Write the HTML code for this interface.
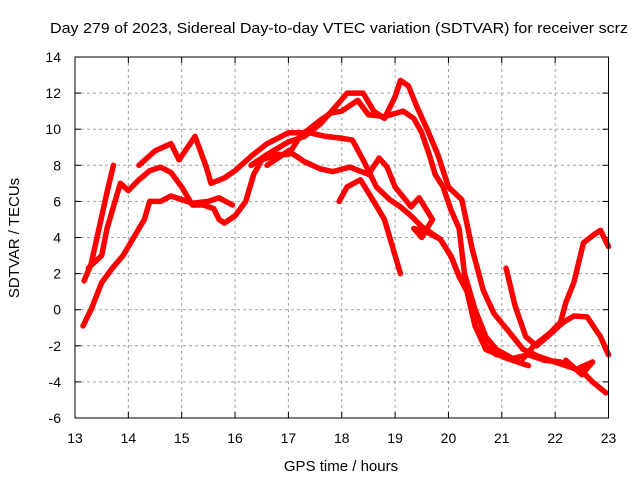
<!DOCTYPE html>
<html><head><meta charset="utf-8"><style>
body{margin:0;background:#fff;}
svg{display:block;font-family:"Liberation Sans",sans-serif;}
</style></head><body>
<svg id="chart" width="640" height="480">
<rect width="640" height="480" fill="#fff"/>
<text x="50" y="33" font-size="15" textLength="578" lengthAdjust="spacingAndGlyphs">Day 279 of 2023, Sidereal Day-to-day VTEC variation (SDTVAR) for receiver scrz</text>
<text x="341" y="471" font-size="15" text-anchor="middle">GPS time / hours</text>
<text transform="translate(19,238) rotate(-90)" font-size="15" text-anchor="middle">SDTVAR / TECUs</text>
<g id="grid"></g><g id="ticks"></g><g id="series"></g>
<rect x="75" y="57" width="533.5" height="361" fill="none" stroke="#000" stroke-width="1"/>
</svg>
<script>
const xTicks=[13,14,15,16,17,18,19,20,21,22,23];
const yTicks=[-6,-4,-2,0,2,4,6,8,10,12,14];
const t1h=[13.17,13.3,13.45,13.6,13.72];
const t1v=[1.6,2.5,4.5,6.5,8];
const t2h=[13.15,13.3,13.5,13.7,13.9,14.1,14.3,14.4,14.6,14.8,15.0,15.2,15.5,15.7,15.95];
const t2v=[-0.9,0,1.5,2.3,3,4,5,6,6.0,6.3,6.1,5.9,6,6.2,5.8];
const t3h=[13.25,13.5,13.6,13.7,13.85,14.0,14.2,14.4,14.6,14.8,15.0,15.2,15.4,15.6,15.7,15.8,16.0,16.2,16.35,16.5,16.8,17.0,17.2,17.4,17.7,18.0,18.2,18.4,18.65,18.9,19.1,19.3,19.5,19.7,19.85,20.05,20.2,20.35,20.5,20.7,21.1,21.5];
const t3v=[2.3,3,4.5,5.5,7,6.6,7.2,7.7,7.9,7.6,6.8,5.8,5.8,5.6,5.0,4.8,5.2,6.0,7.5,8.3,8.6,8.6,9.5,9.8,9.6,9.5,9.4,8.3,6.8,6.1,5.7,5.2,4.6,4.2,3.9,2.95,1.85,1,-0.9,-2.2,-2.7,-3.1];
const t4h=[16.3,16.6,17.0,17.3,17.6,17.9,18.1,18.4,18.6,18.8,19.0,19.1,19.25,19.4,19.6,19.8,20.0,20.25,20.45,20.65,20.85,21.1,21.4,21.7,22.0,22.2,22.5,22.7,22.95];
const t4v=[8.0,8.6,9.3,9.6,10.3,11.3,12.0,12.0,11.0,10.6,11.8,12.7,12.4,11.3,10,8.6,6.8,6.1,3.3,1.1,-0.2,-1.1,-2.2,-2.6,-2.9,-3.1,-3.4,-4,-4.6];
const t5h=[14.2,14.5,14.8,14.95,15.25,15.45,15.55,15.8,16.0,16.3,16.6,17.0,17.3,17.6,17.8,18.0,18.3,18.5,18.8,19.15,19.35,19.5,19.65,19.75,19.9,20.05,20.2,20.3,20.5,20.7,20.9,21.2,21.5,21.8,22.1,22.4,22.7];
const t5v=[8,8.8,9.2,8.3,9.6,8.0,7.0,7.3,7.7,8.5,9.2,9.8,9.8,10.5,10.9,11.0,11.6,10.8,10.7,11.0,10.6,9.8,8.5,7.5,6.8,5.5,4.5,2.0,0,-1.5,-2.2,-2.7,-2.5,-2.8,-2.9,-3.3,-2.9];
const t6h=[16.6,17.0,17.3,17.6,17.83,18.15,18.5,18.7,18.85,19.0,19.3,19.45,19.7,19.5,19.35,19.6,19.85,20.05,20.2,20.35,20.5,20.7,20.9];
const t6v=[8.0,8.8,8.2,7.8,7.65,7.9,7.5,8.4,7.9,6.8,5.7,6.2,5.0,4.0,4.5,4.3,3.9,2.95,1.85,1.0,-0.9,-2.0,-2.5];
const t7h=[17.95,18.1,18.35,18.6,18.8,18.95,19.1];
const t7v=[6.0,6.8,7.2,6.0,5.0,3.5,2.0];
const t8h=[21.08,21.25,21.45,21.65,21.85,22.15,22.35,22.6,22.85,23.0];
const t8v=[2.3,0.2,-1.5,-2.0,-1.5,-0.7,-0.35,-0.4,-1.5,-2.5];
const t9h=[21.4,21.6,21.9,22.1,22.2,22.35,22.53,22.7,22.85,23.0];
const t9v=[-2.7,-2.0,-1.3,-0.7,0.4,1.5,3.7,4.1,4.4,3.5];
const t10h=[22.2,22.5,22.7];
const t10v=[-2.8,-3.6,-2.9];
const series=[[t1h,t1v],[t2h,t2v],[t3h,t3v],[t4h,t4v],[t5h,t5v],[t6h,t6v],[t7h,t7v],[t8h,t8v],[t9h,t9v],[t10h,t10v]];
const X=h=>75+(h-13)*53.35, Y=v=>57+(14-v)*18.05;
const NS="http://www.w3.org/2000/svg";
const grid=document.getElementById('grid'),ticks=document.getElementById('ticks'),ser=document.getElementById('series');
function mk(tag,attrs,parent){const e=document.createElementNS(NS,tag);for(const k in attrs)e.setAttribute(k,attrs[k]);parent.appendChild(e);return e;}
xTicks.forEach(t=>{const x=X(t);
 if(t>13&&t<23){const g=mk('line',{x1:x,x2:x,y1:57,y2:418,stroke:'#a0a0a0','stroke-dasharray':'3,3'},grid);
 
 }
 mk('line',{x1:x,x2:x,y1:418,y2:412,stroke:'#000'},ticks);mk('line',{x1:x,x2:x,y1:57,y2:63,stroke:'#000'},ticks);
 const l=mk('text',{x:x,y:443,'font-size':14,'text-anchor':'middle'},ticks);l.textContent=t;
 
 });
yTicks.forEach(t=>{const y=Y(t);
 if(t>-6&&t<14){const g=mk('line',{x1:75,x2:608.5,y1:y,y2:y,stroke:'#a0a0a0','stroke-dasharray':'3,3'},grid);
 
 }
 mk('line',{x1:75,x2:81,y1:y,y2:y,stroke:'#000'},ticks);mk('line',{x1:602.5,x2:608.5,y1:y,y2:y,stroke:'#000'},ticks);
 const l=mk('text',{x:61,y:y+5,'font-size':14,'text-anchor':'end'},ticks);l.textContent=t;
 
 });
series.forEach((s,i)=>{const pts=s[0].map((h,j)=>X(h)+','+Y(s[1][j])).join(' ');
 const p=mk('polyline',{points:pts,fill:'none',stroke:'#ff0000','stroke-width':5.5,'stroke-linejoin':'round','stroke-linecap':'round'},ser);
 
 });
</script>
</body></html>
